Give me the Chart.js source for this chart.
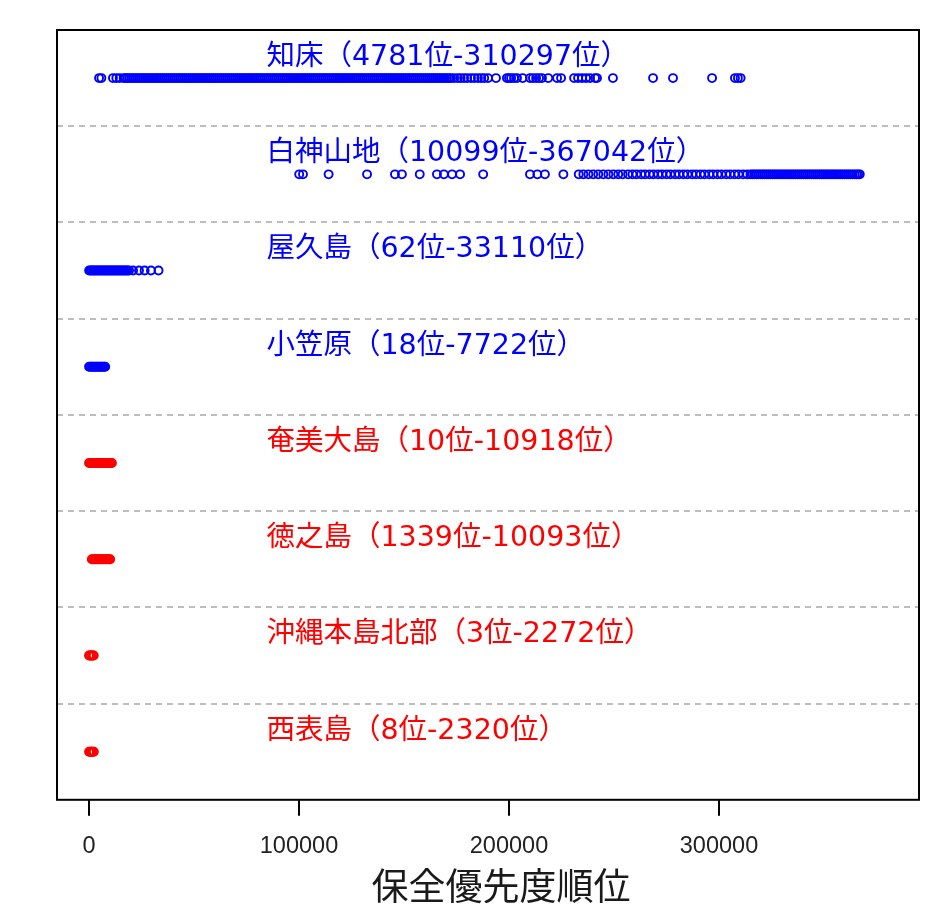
<!DOCTYPE html>
<html><head><meta charset="utf-8">
<script src="https://cdn.jsdelivr.net/npm/chart.js@4/dist/chart.umd.min.js"></script>
<style>html,body{margin:0;padding:0;background:#fff}#wrap{width:952px;height:918px}</style>
</head><body><div id="wrap"><canvas id="c" width="952" height="918"></canvas></div>
<script>
// ---- data ----
const siteNames = ["知床","白神山地","屋久島","小笠原","奄美大島","徳之島","沖縄本島北部","西表島"];
const siteLabels = ["知床（4781位-310297位）","白神山地（10099位-367042位）","屋久島（62位-33110位）","小笠原（18位-7722位）",
  "奄美大島（10位-10918位）","徳之島（1339位-10093位）","沖縄本島北部（3位-2272位）","西表島（8位-2320位）"];
const siteGroup = ["existing","existing","existing","existing","candidate","candidate","candidate","candidate"];

const shiretoko = [4781,5900,11400,13000,14600,16500,
 17400,18300,19250,20200,21100,22050,23000,23900,24850,25800,26700,27650,28600,29500,30450,31400,32300,33250,34200,35100,
 36050,37000,37900,38850,39800,40700,41650,42600,43500,44450,45400,46300,47250,48200,49100,50050,51000,51900,52850,53800,
 54700,55650,56600,57500,58450,59400,60300,61250,62200,63100,64050,65000,65900,66850,67800,68700,69650,70600,71500,72450,
 73400,74300,75250,76200,77100,78050,79000,79900,80850,81800,82700,83650,84600,85500,86450,87400,88300,89250,90200,91100,
 92050,93000,93900,94850,95800,96700,97650,98600,99500,100450,101400,102300,103250,104200,105100,106050,107000,107900,
 108850,109800,110700,111650,112600,113500,114450,115400,116300,117250,118200,119100,120050,121000,121900,122850,123800,
 124700,125650,126600,127500,128450,129400,130300,131250,132200,133100,134050,135000,135900,136850,137800,138700,139650,
 140600,141500,142450,143400,144300,145250,146200,147100,148050,149000,149900,150850,151800,152700,153650,154600,155500,
 156450,157400,158300,159250,160200,161100,162050,163000,163900,164850,165800,166700,167650,168600,169500,170450,171400,
 172400,173900,175600,177000,178600,180100,181900,183500,185200,186800,188200,190000,193800,199000,200000,201000,202400,
 203800,206500,210000,211400,212900,214300,215700,218700,222900,224800,231000,232900,234800,236700,238600,241000,241900,
 249500,268600,278100,296700,307600,309000,310297];
const shirakami = [100099,101900,114100,132400,145700,149000,157500,165700,169000,172900,176700,187700,
 210000,213500,217100,225900,233200,235400,237800,240100,242500,244900,247300,249700,252000,254100,
 256700,258800,260700,262900,264800,266900,268800,271000,272900,275000,276900,279100,281000,283100,285000,287200,
 289100,291200,293100,295300,297200,299300,301200,303400,305300,307400,309300,311500,313400,315000,
 316000,316950,317900,318800,319750,320700,321600,322550,323500,324400,325350,326300,327200,328150,329100,330000,
 330950,331900,332800,333750,334700,335600,336550,337500,338400,339350,340300,341200,342150,343100,344000,344950,
 345900,346800,347750,348700,349600,350550,351500,352400,353350,354300,355200,356150,357100,358000,358950,359900,
 360800,361750,362700,363600,364550,365500,366300,367042];
const yakushima = [62,700,1350,2000,2600,3250,3900,4500,5150,5800,6400,7050,7700,8300,8950,9600,10200,10850,11500,12100,
 12750,13400,14000,14650,15300,15900,16550,17200,17800,18450,19100,21000,23800,26500,29500,33110];
const ogasawara = [18,600,1200,1800,2400,3000,3600,4200,4800,5400,6000,6600,7200,7722];
const amami = [10,620,1250,1850,2450,3100,3700,4300,4950,5550,6150,6800,7400,8000,8650,9250,9850,10400,10918];
const tokunoshima = [1339,1900,2500,3100,3700,4300,4900,5500,6100,6700,7300,7900,8500,9100,9600,10093];
const okinawaNorth = [3,400,800,1150,1500,1900,2272];
const iriomote = [8,400,800,1200,1550,1950,2320];
const siteValues = [shiretoko,shirakami,yakushima,ogasawara,amami,tokunoshima,okinawaNorth,iriomote];

const xTicks = [0,100000,200000,300000];
const xTitle = "保全優先度順位";

// ---- styling ----
const groupColor = {existing:"#0000ff", candidate:"#ff0000"};
const nRows = siteNames.length;
const labelAtX = 84500;

const datasets = siteValues.map((vals,i)=>({
  label: siteNames[i],
  data: vals.map(v=>({x:v, y:nRows-i})),
  showLine:false,
  pointRadius:4,
  pointHoverRadius:4,
  pointBorderWidth:1.9,
  pointBackgroundColor:"rgba(0,0,0,0)",
  borderColor: groupColor[siteGroup[i]],
  pointBorderColor: groupColor[siteGroup[i]]
}));

const overlay = {
  id:"overlay",
  afterDraw(chart){
    const ctx = chart.ctx, a = chart.chartArea;
    const xs = chart.scales.x, ys = chart.scales.y;
    ctx.save();
    ctx.lineWidth = 2; ctx.strokeStyle = "#000";
    ctx.strokeRect(a.left, a.top, a.right-a.left, a.bottom-a.top);
    ctx.font = "28.5px 'DejaVu Sans', 'Noto Sans CJK JP'";
    ctx.textAlign = "left"; ctx.textBaseline = "middle";
    siteLabels.forEach((t,i)=>{
      ctx.fillStyle = groupColor[siteGroup[i]];
      ctx.fillText(t, xs.getPixelForValue(labelAtX), ys.getPixelForValue(nRows-i) - 20.5);
    });
    ctx.fillStyle = "#1a1a1a";
    ctx.font = "37px 'Noto Sans CJK JP'";
    ctx.textAlign = "center";
    ctx.fillText(xTitle, (a.left+a.right)/2 + 13, 886);
    ctx.restore();
  }
};

new Chart(document.getElementById("c"), {
  type:"scatter",
  data:{datasets},
  options:{
    responsive:false, animation:false, devicePixelRatio:1,
    layout:{padding:{left:57, right:33, top:30, bottom:40}},
    plugins:{legend:{display:false}, tooltip:{enabled:false}},
    scales:{
      x:{
        type:"linear", min:-15238, max:395238,
        afterBuildTicks:s=>{ s.ticks = xTicks.map(v=>({value:v})); },
        ticks:{callback:v=>String(v), font:{family:"'Liberation Sans', Arial, sans-serif", size:23.5}, color:"#222",
               padding:17, maxRotation:0, autoSkip:false},
        grid:{drawOnChartArea:false, drawTicks:true, tickLength:16, color:"#000", lineWidth:2},
        border:{display:false}
      },
      y:{
        type:"linear", min:0.5, max:8.5,
        afterBuildTicks:s=>{ s.ticks = [1.5,2.5,3.5,4.5,5.5,6.5,7.5].map(v=>({value:v})); },
        ticks:{display:false},
        grid:{drawTicks:false, color:"#bebebe", lineWidth:2},
        border:{display:false, dash:[6,5]}
      }
    }
  },
  plugins:[overlay]
});
</script></body></html>
